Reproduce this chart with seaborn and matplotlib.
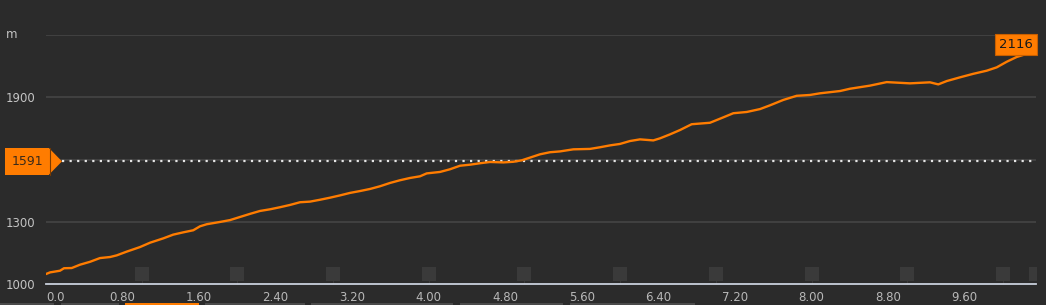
import numpy as np
import pandas as pd
import matplotlib
matplotlib.use("Agg")
import matplotlib.pyplot as plt
import matplotlib.transforms as mtransforms
from matplotlib.patches import Polygon, Rectangle
import seaborn as sns

# ---- data ----
distance_km = [0.000, 0.042, 0.146, 0.188, 0.269, 0.355, 0.460, 0.564, 0.669, 0.739,
               0.843, 0.982, 1.087, 1.226, 1.330, 1.435, 1.539, 1.609, 1.679, 1.818,
               1.923, 2.027, 2.132, 2.236, 2.341, 2.445, 2.550, 2.654, 2.759, 2.863,
               2.968, 3.072, 3.177, 3.281, 3.386, 3.490, 3.595, 3.699, 3.804, 3.908,
               3.978, 4.117, 4.222, 4.326, 4.431, 4.535, 4.640, 4.778, 4.883, 4.971,
               5.057, 5.162, 5.266, 5.371, 5.510, 5.684, 5.789, 5.893, 5.998, 6.102,
               6.207, 6.346, 6.416, 6.520, 6.625, 6.747, 6.938, 7.077, 7.182, 7.322,
               7.461, 7.565, 7.704, 7.844, 7.983, 8.088, 8.297, 8.401, 8.610, 8.785,
               9.028, 9.237, 9.324, 9.412, 9.551, 9.690, 9.830, 9.934, 10.039, 10.143,
               10.240, 10.345]
elevation_m = [1048, 1056, 1064, 1076, 1077, 1093, 1107, 1125, 1130, 1138,
               1156, 1178, 1199, 1220, 1238, 1249, 1259, 1278, 1288, 1299,
               1308, 1323, 1338, 1352, 1360, 1370, 1381, 1394, 1397, 1406,
               1416, 1427, 1439, 1448, 1458, 1471, 1487, 1500, 1511, 1519,
               1533, 1540, 1553, 1570, 1575, 1582, 1588, 1586, 1589, 1596,
               1609, 1625, 1635, 1639, 1649, 1651, 1659, 1668, 1675, 1689,
               1697, 1692, 1702, 1721, 1742, 1770, 1777, 1803, 1823, 1829,
               1843, 1861, 1887, 1907, 1911, 1919, 1930, 1941, 1956, 1973,
               1967, 1972, 1962, 1978, 1996, 2013, 2028, 2044, 2071, 2094,
               2108, 2116]
km_markers = [1, 2, 3, 4, 5, 6, 7, 8, 9, 10, 10.345]
x_ticks = [0.0, 0.8, 1.6, 2.4, 3.2, 4.0, 4.8, 5.6, 6.4, 7.2, 8.0, 8.8, 9.6]
x_tick_labels = ["0.0", "0.80", "1.60", "2.40", "3.20", "4.00", "4.80",
                 "5.60", "6.40", "7.20", "8.00", "8.80", "9.60"]
y_ticks = [1000, 1300, 1600, 1900, 2200]
y_tick_labels = ["1000", "1300", "", "1900", ""]
ref_level = 1591
max_label = "2116"
unit_label = "m"

BG = "#2b2b2b"
ORANGE = "#ff7c00"
GRID = "#434343"
TXT = "#c4c4c4"

sns.set_theme(style="dark", rc={"axes.facecolor": BG, "figure.facecolor": BG})
plt.rcParams["font.family"] = ["DejaVu Sans"]

W, H = 1046, 305
fig = plt.figure(figsize=(W / 100, H / 100), dpi=100)
L, R, B, T = 46, 1036, 284, 35
ax = fig.add_axes([L / W, (H - B) / H, (R - L) / W, (B - T) / H])
ax.set_facecolor(BG)

df = pd.DataFrame({"km": distance_km, "ele": elevation_m})

# grid lines
for yv in y_ticks[1:]:
    ax.axhline(yv, color=GRID, lw=1.3, zorder=1)

# km marker squares
ax.scatter(km_markers, [1048] * len(km_markers), marker="s", s=100,
           color="#3a3a3a", zorder=2, linewidths=0, clip_on=True)
for k in km_markers:
    ax.plot([k, k], [1000, 1030], color="#3a3a3a", lw=0.8, zorder=2)

# reference dotted line
ax.axhline(ref_level, xmin=16 / (R - L), color="#e6e6e6", lw=1.6,
           linestyle=(0, (1, 2.4)), zorder=3)

sns.lineplot(data=df, x="km", y="ele", ax=ax, color=ORANGE, lw=1.7, zorder=4)

ax.set_xlim(0, 10.345)
ax.set_ylim(1000, 2200)
ax.set_xlabel("")
ax.set_ylabel("")
for s in ["top", "right", "left"]:
    ax.spines[s].set_visible(False)
ax.spines["bottom"].set_color("#c9d0dc")
ax.spines["bottom"].set_linewidth(1.3)
ax.spines["bottom"].set_zorder(5)

ax.set_xticks(x_ticks)
ax.set_xticklabels(x_tick_labels)
ax.set_yticks(y_ticks)
ax.set_yticklabels(y_tick_labels)
ax.tick_params(axis="x", length=0, pad=5, labelsize=8.5, colors="#b8b8b8")
ax.tick_params(axis="y", length=0, pad=29, labelsize=8.5, colors=TXT)
for lab in ax.get_yticklabels():
    lab.set_horizontalalignment("left")
ax.get_xticklabels()[0].set_horizontalalignment("left")
ax.grid(False)

# unit label
fig.text(6 / W, (H - 34) / H, unit_label, color=TXT, fontsize=8.5, va="center", ha="left")

# reference level flag
tr = mtransforms.blended_transform_factory(fig.transFigure, ax.transData)
fig.patches.append(Rectangle((5 / W, ref_level - 64), 44 / W, 128, transform=tr,
                             facecolor=ORANGE, edgecolor="none", zorder=6))
fig.patches.append(Polygon([[49 / W, ref_level + 64], [62 / W, ref_level],
                            [49 / W, ref_level - 64]], closed=True, transform=tr,
                           facecolor=ORANGE, edgecolor="none", zorder=6))
fig.lines.append(plt.Line2D([49.5 / W, 49.5 / W], [ref_level - 64, ref_level + 64],
                            transform=tr, color="#7a3a00", lw=0.8, zorder=7))
fig.text(27 / W, ref_level, str(ref_level), transform=tr, ha="center", va="center",
         fontsize=9, color="#3a2a1a", zorder=8)

# max label
ax.text(1016 / W, 2155, max_label, transform=tr, ha="center", va="center",
        fontsize=9.5, color="#1a1a1a", zorder=8,
        bbox=dict(boxstyle="square,pad=0.28", facecolor=ORANGE, edgecolor="#c85f00", lw=0.8))

# bottom strip segments
strip = [(0, 54, "#4a4a4a"), (61, 119, "#4a4a4a"), (125, 199, ORANGE),
         (205, 305, "#4a4a4a"), (311, 453, "#4a4a4a"), (460, 563, "#4a4a4a"),
         (570, 695, "#4a4a4a")]
for x0, x1, c in strip:
    fig.patches.append(Rectangle((x0 / W, 0), (x1 - x0) / W, 2.5 / H,
                                 transform=fig.transFigure, facecolor=c,
                                 edgecolor="none"))

fig.savefig("out.png", dpi=100, facecolor=BG)
